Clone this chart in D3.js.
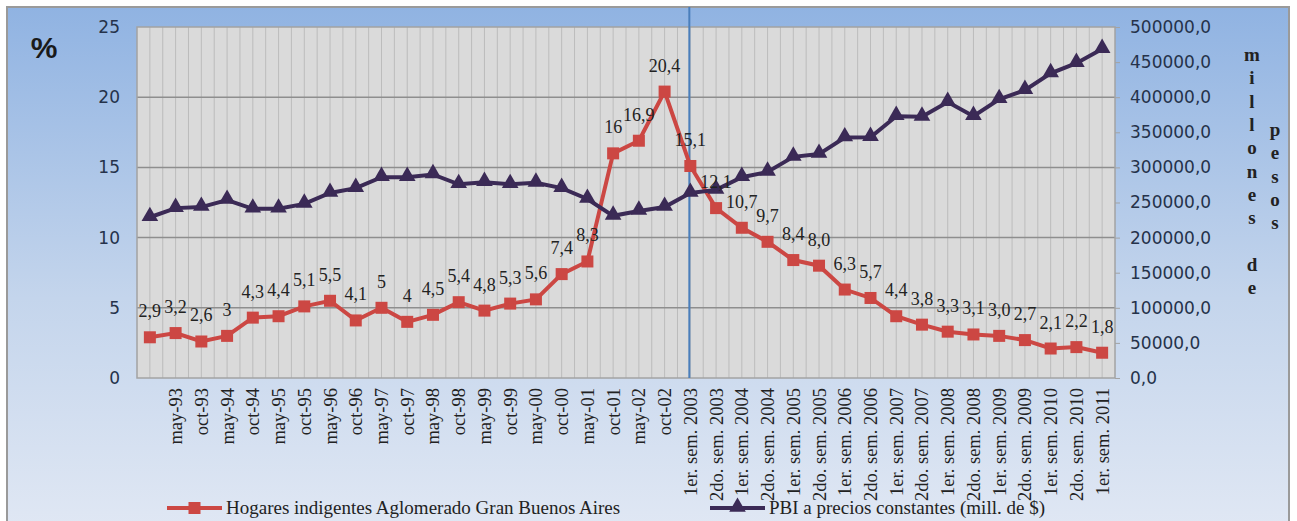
<!DOCTYPE html>
<html>
<head>
<meta charset="utf-8">
<script src="https://cdn.jsdelivr.net/npm/d3@7"></script>
<style>
  body { margin: 0; background: #fff; }
  svg { display: block; }
  .serif { font-family: "Liberation Serif", "Times New Roman", serif; }
  .sans { font-family: "DejaVu Sans", Verdana, sans-serif; }
</style>
</head>
<body>
<div id="chart"></div>
<script>

// categories (first one has no label in the original)
const categories = ["", "may-93", "oct-93", "may-94", "oct-94", "may-95", "oct-95", "may-96", "oct-96",
    "may-97", "oct-97", "may-98", "oct-98", "may-99", "oct-99", "may-00", "oct-00", "may-01", "oct-01",
    "may-02", "oct-02",
    "1er. sem. 2003", "2do. sem. 2003", "1er. sem. 2004", "2do. sem. 2004", "1er. sem. 2005", "2do. sem. 2005",
    "1er. sem. 2006", "2do. sem. 2006", "1er. sem. 2007", "2do. sem. 2007", "1er. sem. 2008", "2do. sem. 2008",
    "1er. sem. 2009", "2do. sem. 2009", "1er. sem. 2010", "2do. sem. 2010", "1er. sem. 2011"];

// % of indigent households, Gran Buenos Aires
const hogares = [2.9, 3.2, 2.6, 3, 4.3, 4.4, 5.1, 5.5, 4.1, 5, 4, 4.5, 5.4, 4.8, 5.3, 5.6, 7.4, 8.3,
    16, 16.9, 20.4, 15.1, 12.1, 10.7, 9.7, 8.4, 8.0, 6.3, 5.7, 4.4, 3.8, 3.3, 3.1, 3.0, 2.7, 2.1, 2.2, 1.8];

// PBI a precios constantes (millones de $)
const pbi = [229000, 242000, 243500, 253500, 241000, 241000, 248000, 263500, 270500, 286000, 286000, 290000,
    276000, 279000, 276000, 278000, 270500, 255000, 231000, 238000, 243500, 263500, 268000, 286000,
    293500, 315000, 319000, 342500, 343000, 373000, 372000, 393000, 373000, 397000, 410000, 434000,
    448500, 468500];

const leftTicks = [0, 5, 10, 15, 20, 25];
const rightTicks = [0, 50000, 100000, 150000, 200000, 250000, 300000, 350000, 400000, 450000, 500000];
const semesterStart = "1er. sem. 2003";

const seriesNames = ["Hogares indigentes Aglomerado Gran Buenos Aires", "PBI a precios constantes (mill. de $)"];

const W = 1297, H = 521;
const plot = {left: 137, right: 1115, top: 27, bottom: 378};
const red = "#cc4743", purple = "#3b2a56";

const svg = d3.select("#chart").append("svg")
    .attr("width", W)
    .attr("height", H);

const defs = svg.append("defs");
const grad = defs.append("linearGradient")
    .attr("id", "bg")
    .attr("x1", 0).attr("y1", 0).attr("x2", 0).attr("y2", 1);
grad.append("stop").attr("offset", "0%").attr("stop-color", "#90b3e2");
grad.append("stop").attr("offset", "55%").attr("stop-color", "#c4d5ec");
grad.append("stop").attr("offset", "100%").attr("stop-color", "#e1e8f4");

// chart frame
svg.append("rect")
    .attr("x", 7).attr("y", 7)
    .attr("width", 1282).attr("height", 530)
    .attr("fill", "url(#bg)")
    .attr("stroke", "#9a9a9a")
    .attr("stroke-width", 2);

const x = d3.scaleBand().domain(categories).range([plot.left, plot.right]);
const bw = x.bandwidth();
const cx = d => x(d) + bw / 2;

const yL = d3.scaleLinear().domain([0, 25]).range([plot.bottom, plot.top]);
const yR = d3.scaleLinear().domain([0, 500000]).range([plot.bottom, plot.top]);

// plot area
svg.append("rect")
    .attr("x", plot.left).attr("y", plot.top)
    .attr("width", plot.right - plot.left).attr("height", plot.bottom - plot.top)
    .attr("fill", "#dadada");

// minor vertical grid: band edges and centres
const vlines = [];
categories.forEach((c, i) => {
    if (i > 0) vlines.push(x(c));
    vlines.push(cx(c));
});
svg.append("g").selectAll("line")
    .data(vlines)
    .join("line")
    .attr("x1", d => d).attr("x2", d => d)
    .attr("y1", plot.top).attr("y2", plot.bottom)
    .attr("stroke", "#bcbcbc")
    .attr("stroke-width", 1);

// major horizontal grid
svg.append("g").selectAll("line")
    .data(leftTicks.slice(1, -1))
    .join("line")
    .attr("x1", plot.left).attr("x2", plot.right)
    .attr("y1", d => yL(d)).attr("y2", d => yL(d))
    .attr("stroke", "#8e8e8e")
    .attr("stroke-width", 1.5);

svg.append("rect")
    .attr("x", plot.left).attr("y", plot.top)
    .attr("width", plot.right - plot.left).attr("height", plot.bottom - plot.top)
    .attr("fill", "none")
    .attr("stroke", "#a3a3a3")
    .attr("stroke-width", 1.5);

// axes
const comma1 = d => d.toFixed(1).replace(".", ",");

const gLeft = svg.append("g")
    .attr("class", "sans")
    .attr("transform", `translate(${plot.left},0)`)
    .call(d3.axisLeft(yL).tickValues(leftTicks).tickSize(0).tickPadding(17));
const gRight = svg.append("g")
    .attr("class", "sans")
    .attr("transform", `translate(${plot.right},0)`)
    .call(d3.axisRight(yR).tickValues(rightTicks).tickSize(5).tickPadding(10).tickFormat(comma1));
[gLeft, gRight].forEach(g => {
    g.select(".domain").remove();
    g.selectAll("text").attr("font-size", 17).attr("fill", "#25324a").attr("font-family", null);
    g.selectAll("line").attr("stroke", "#a3a3a3");
});

const gX = svg.append("g")
    .attr("transform", `translate(0,${plot.bottom})`)
    .call(d3.axisBottom(x).tickSize(0).tickPadding(0));
gX.select(".domain").remove();
gX.selectAll("text")
    .attr("class", "serif")
    .attr("font-family", null)
    .attr("font-size", 18.5)
    .attr("fill", "#222")
    .attr("text-anchor", "end")
    .attr("y", 0).attr("dy", "0.35em")
    .attr("transform", "translate(0,10) rotate(-90)");

// vertical marker at start of semester series
svg.append("line")
    .attr("x1", cx(semesterStart) - 1).attr("x2", cx(semesterStart) - 1)
    .attr("y1", 7).attr("y2", plot.bottom)
    .attr("stroke", "#4a7ebb")
    .attr("stroke-width", 2);

// series
const lineL = d3.line().x((d, i) => cx(categories[i])).y(d => yL(d));
const lineR = d3.line().x((d, i) => cx(categories[i])).y(d => yR(d));

svg.append("path")
    .datum(hogares)
    .attr("d", lineL)
    .attr("fill", "none")
    .attr("stroke", red)
    .attr("stroke-width", 4);
svg.append("g").selectAll("rect")
    .data(hogares)
    .join("rect")
    .attr("x", (d, i) => cx(categories[i]) - 6)
    .attr("y", d => yL(d) - 6)
    .attr("width", 12).attr("height", 12)
    .attr("fill", red);

svg.append("path")
    .datum(pbi)
    .attr("d", lineR)
    .attr("fill", "none")
    .attr("stroke", purple)
    .attr("stroke-width", 4);
const tri = d3.symbol().type(d3.symbolTriangle).size(120);
svg.append("g").selectAll("path")
    .data(pbi)
    .join("path")
    .attr("d", tri)
    .attr("transform", (d, i) => `translate(${cx(categories[i])},${yR(d) - 1})`)
    .attr("fill", purple);

// data labels
const labelFmt = (d, i) => i >= categories.indexOf(semesterStart) ? comma1(d) : String(d).replace(".", ",");
svg.append("g").selectAll("text")
    .data(hogares)
    .join("text")
    .attr("class", "serif")
    .attr("x", (d, i) => cx(categories[i]))
    .attr("y", d => yL(d) - 20)
    .attr("text-anchor", "middle")
    .attr("font-size", 18)
    .attr("fill", "#222")
    .text(labelFmt);

// unit labels
svg.append("text")
    .attr("x", 44).attr("y", 58)
    .attr("text-anchor", "middle")
    .attr("font-family", "Liberation Sans, Arial, sans-serif")
    .attr("font-weight", "bold")
    .attr("font-size", 30)
    .attr("fill", "#1a1a1a")
    .text("%");

const stack = (letters, xPos, y0) => {
    svg.append("g").selectAll("text")
        .data(letters)
        .join("text")
        .attr("class", "serif")
        .attr("x", xPos)
        .attr("y", (d, i) => y0 + i * 23.3)
        .attr("text-anchor", "middle")
        .attr("font-weight", "bold")
        .attr("font-size", 19)
        .attr("fill", "#222")
        .text(d => d);
};
stack(["m", "i", "l", "l", "o", "n", "e", "s", "", "d", "e"], 1252, 61);
stack(["p", "e", "s", "o", "s"], 1275, 136);

// legend
const legend = svg.append("g").attr("class", "serif");
const entries = [
    {name: seriesNames[0], color: red, x0: 167, x1: 222, mark: "square"},
    {name: seriesNames[1], color: purple, x0: 710, x1: 765, mark: "triangle"}
];
entries.forEach(e => {
    const ly = 508;
    legend.append("line")
        .attr("x1", e.x0).attr("x2", e.x1)
        .attr("y1", ly).attr("y2", ly)
        .attr("stroke", e.color)
        .attr("stroke-width", 4);
    const mx = (e.x0 + e.x1) / 2;
    if (e.mark === "square") {
        legend.append("rect")
            .attr("x", mx - 6).attr("y", ly - 6)
            .attr("width", 12).attr("height", 12)
            .attr("fill", e.color);
    } else {
        legend.append("path")
            .attr("d", tri)
            .attr("transform", `translate(${mx},${ly - 1})`)
            .attr("fill", e.color);
    }
    legend.append("text")
        .attr("x", e.x1 + 4)
        .attr("y", ly + 6)
        .attr("font-size", 19)
        .attr("fill", "#222")
        .text(e.name);
});

</script>
</body>
</html>
